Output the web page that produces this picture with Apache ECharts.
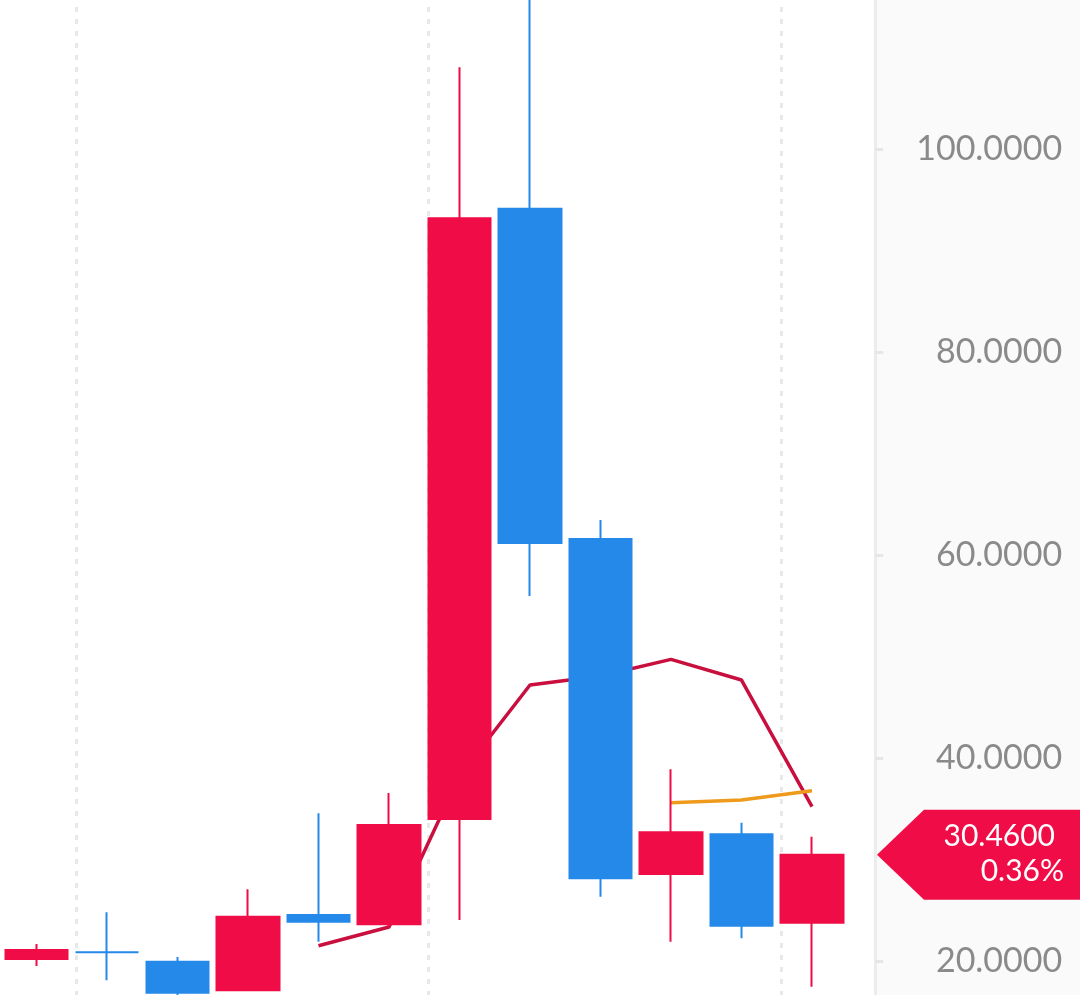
<!DOCTYPE html>
<html>
<head>
<meta charset="utf-8">
<script src="https://cdn.jsdelivr.net/npm/echarts@6/dist/echarts.min.js"></script>
<style>html,body{margin:0;padding:0;background:#fff;}#c{width:1080px;height:995px;}</style>
</head>
<body>
<div id="c"></div>
<script>
// ---- data ----
const categories = ['1','2','3','4','5','6','7','8','9','10','11','12'];
// [open, close, low, high]
const candles = [
  [20.20, 21.08, 19.50, 21.67],
  [20.85, 20.85, 18.10, 24.80],
  [19.93, 16.88, 16.40, 20.40],
  [17.11, 24.36, 17.05, 27.06],
  [24.53, 23.87, 21.90, 34.55],
  [23.62, 33.40, 23.40, 36.55],
  [33.99, 93.17, 24.04, 108.05],
  [94.12, 61.18, 55.96, 118.00],
  [61.58, 28.15, 26.34, 63.45],
  [28.57, 32.68, 21.90, 38.89],
  [32.48, 23.48, 22.24, 33.63],
  [23.77, 30.46, 17.47, 32.25]
];
const maRed = [null, null, null, null, 21.5, 23.35, 38.23, 47.19, 48.08, 49.72, 47.68, 35.2];
const maOrange = [null, null, null, null, null, null, null, null, null, 35.6, 35.86, 36.78];
const lastPriceText = '30.4600';
const lastChangeText = '0.36%';
// vertical dashed time grid lines, in category units (index of candle)
const timeGridLines = [0.56, 5.56, 10.56];

const UP = '#f00c46', DOWN = '#2589e9';
const chart = echarts.init(document.getElementById('c'), null, {renderer: 'canvas'});
chart.setOption({
  animation: false,
  backgroundColor: '#ffffff',
  grid: {left: 1.25, right: 232.75, top: -54, bottom: -169, containLabel: false, outerBoundsMode: 'none'},
  xAxis: [{
    type: 'category', data: categories, boundaryGap: true,
    axisLine: {show: false}, axisTick: {show: false}, axisLabel: {show: false},
    splitLine: {show: false}
  }, {
    type: 'value', min: -0.5, max: 11.5, show: false
  }],
  yAxis: {
    type: 'value', position: 'right', offset: 28, min: 0, max: 120, interval: 20, scale: false,
    axisLine: {show: true, onZero: false, lineStyle: {color: '#ececec', width: 3}},
    axisTick: {show: true, length: 8, lineStyle: {color: '#e6e6e6', width: 3}},
    splitLine: {show: false},
    axisLabel: {show: true, align: 'right', margin: 187, color: '#8a8a8a', fontFamily: 'Lato', fontSize: 34,
      formatter: (v) => v.toFixed(4)}
  },
  series: [
    {
      type: 'line', xAxisIndex: 1, data: [], symbol: 'none', silent: true, z: 1,
      markLine: {
        silent: true, z: 1, symbol: ['none', 'none'], label: {show: false},
        lineStyle: {color: '#e8e8e8', width: 3, type: [5, 7]},
        data: timeGridLines.map(v => ({xAxis: v}))
      }
    },
    {
      type: 'line', data: maRed, symbol: 'none', connectNulls: false, z: 2,
      lineStyle: {color: '#c80f3e', width: 3.5}
    },
    {
      type: 'line', data: maOrange, symbol: 'none', z: 2,
      lineStyle: {color: '#ee9a1c', width: 3.5}
    },
    {
      type: 'candlestick', data: candles, barWidth: 63, z: 3,
      itemStyle: {color: UP, color0: DOWN, borderColor: UP, borderColor0: DOWN, borderWidth: 2}
    }
  ]
});

const lastClose = candles[candles.length - 1][1];
const y = chart.convertToPixel({yAxisIndex: 0}, lastClose);
const axisX = 876;
chart.setOption({
  graphic: [
    {type: 'rect', z: -10, silent: true, shape: {x: axisX, y: 0, width: 1080 - axisX, height: 995}, style: {fill: '#fafafa'}},
    {type: 'polygon', z: 100, shape: {points: [[axisX + 1, y], [924, y - 45], [1080, y - 45], [1080, y + 45], [924, y + 45]]}, style: {fill: UP}},
    {type: 'text', z: 101, style: {text: lastPriceText, x: 1055, y: y - 19, fill: '#ffffff', font: '30px Lato', textAlign: 'right', textVerticalAlign: 'middle'}},
    {type: 'text', z: 101, style: {text: lastChangeText, x: 1064, y: y + 16, fill: '#ffffff', font: '30px Lato', textAlign: 'right', textVerticalAlign: 'middle'}}
  ]
});
</script>
</body>
</html>
